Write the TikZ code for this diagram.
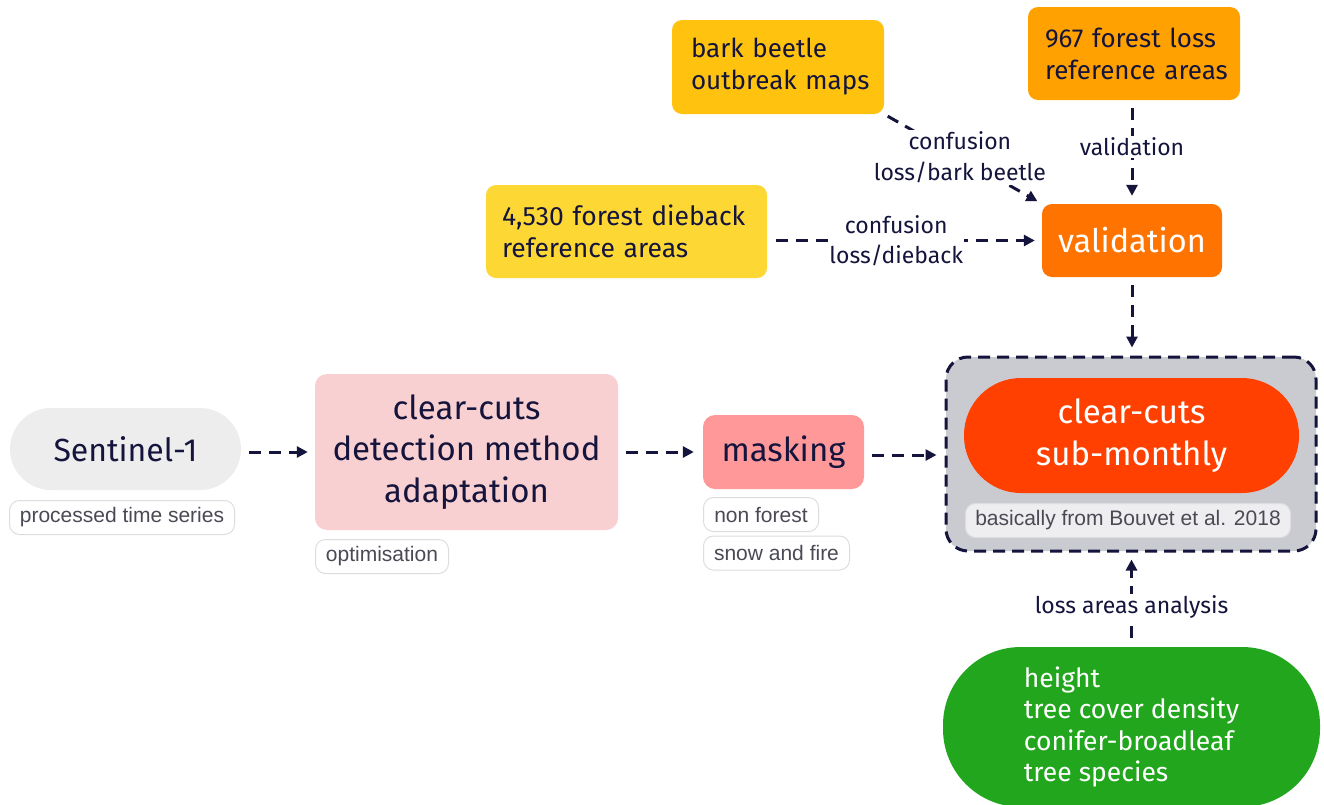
\documentclass[tikz,border=0pt]{standalone}
\usepackage{fontspec}
\setmainfont{Fira Sans}
\newfontfamily\tagfont{Liberation Sans}
\usetikzlibrary{arrows.meta}
\definecolor{navy}{HTML}{14143C}
\definecolor{tagtext}{HTML}{4A4A55}
\definecolor{tagline}{HTML}{DDDDE0}
\definecolor{senfill}{HTML}{EDEDED}
\definecolor{pinkfill}{HTML}{F9D0D1}
\definecolor{maskfill}{HTML}{FF9999}
\definecolor{contfill}{HTML}{C9CBD1}
\definecolor{subfill}{HTML}{FF4000}
\definecolor{bouvfill}{HTML}{EEEEF0}
\definecolor{valfill}{HTML}{FF7400}
\definecolor{lossfill}{HTML}{FFA100}
\definecolor{barkfill}{HTML}{FFC30F}
\definecolor{diefill}{HTML}{FDD835}
\definecolor{greenfill}{HTML}{22A61E}
\tikzset{
  box/.style={inner sep=0pt, text=navy, align=center},
  lbox/.style={inner ysep=0pt, text=navy, align=left},
  tagbox/.style={draw=tagline, line width=1pt, fill=white, rounded corners=10pt,
     inner sep=0pt, minimum height=34pt, text=tagtext, anchor=north west,
     font=\tagfont\fontsize{21}{24}\selectfont},
  arr/.style={draw=navy, line width=3pt, dash pattern=on 12pt off 8pt,
     -{Triangle[length=11pt,width=11pt]}},
  elabel/.style={fill=white, inner sep=2pt, text=navy, align=center,
     font=\fontsize{23}{30}\selectfont}
}
\begin{document}
\begin{tikzpicture}[x=1pt,y=-1pt]
\useasboundingbox[fill=white] (0,0) rectangle (1324,804);

% container
\node[draw=navy, line width=3pt, dash pattern=on 12pt off 7pt, fill=contfill,
  rounded corners=22pt, minimum width=370pt, minimum height=194pt, inner sep=0pt]
  (cont) at (1131,454) {};
\node[box, fill=subfill, text=white, rounded corners=57pt, minimum width=335pt,
  minimum height=115pt, font=\fontsize{33}{42}\selectfont] (sub) at (1131.5,435.5)
  {clear-cuts\\sub-monthly};
\node[tagbox, fill=bouvfill, minimum width=325pt] (bouv) at (965,503) {basically from Bouvet et al. 2018};

% left chain
\node[box, fill=senfill, rounded corners=41pt, minimum width=231pt, minimum height=82pt,
  font=\fontsize{32}{41}\selectfont] (sen) at (125.5,449) {Sentinel-1};
\node[tagbox, minimum width=225pt] (proc) at (9,500) {processed time series};

\node[box, fill=pinkfill, rounded corners=12pt, minimum width=303pt, minimum height=156pt,
  font=\fontsize{33}{41.5}\selectfont] (det) at (466.5,452) {clear-cuts\\detection method\\adaptation};
\node[tagbox, minimum width=133pt] (opt) at (315,539) {optimisation};

\node[box, fill=maskfill, rounded corners=12pt, minimum width=161pt, minimum height=74pt,
  font=\fontsize{33}{41}\selectfont] (mask) at (783.5,452) {masking};
\node[tagbox, minimum width=115pt] (nonf) at (703,497) {non forest};
\node[tagbox, minimum width=146pt] (snow) at (703,535.5) {snow and fire};

% top
\node[box, fill=valfill, text=white, rounded corners=10pt, minimum width=180pt, minimum height=73pt,
  font=\fontsize{32.5}{41}\selectfont] (val) at (1132,240.5) {validation};
\node[lbox, fill=lossfill, rounded corners=10pt, inner xsep=17pt, text width=178pt, minimum height=93pt,
  font=\fontsize{26}{32}\selectfont] (loss) at (1134,53.5) {\mbox{967 forest loss}\\\mbox{reference areas}};
\node[lbox, fill=barkfill, rounded corners=10pt, inner xsep=19pt, text width=174pt, minimum height=94pt,
  font=\fontsize{26}{32}\selectfont] (bark) at (778,67) {\mbox{bark beetle}\\\mbox{outbreak maps}};
\node[lbox, fill=diefill, rounded corners=10pt, inner xsep=16pt, text width=249pt, minimum height=93pt,
  font=\fontsize{26.5}{32}\selectfont] (die) at (626.5,231.5) {\mbox{4,530 forest dieback}\\\mbox{reference areas}};

% bottom
\node[box, fill=greenfill, text=white, rounded corners=78pt, minimum width=377pt, minimum height=160pt,
  align=left, font=\fontsize{26.5}{31.3}\selectfont] (green) at (1131.5,727)
  {height\\tree cover density\\conifer-broadleaf\\tree species};

% connectors
\draw[arr, shorten <=8pt, shorten >=7pt] (sen.east |- det.west) -- (det.west);
\draw[arr, shorten <=8pt, shorten >=9pt] (det.east) -- (mask.west);
\draw[arr, shorten <=8pt, shorten >=8pt] (mask.east) ++(0,3) coordinate (m1) (m1) -- (cont.west |- m1);
\draw[arr, shorten <=8pt, shorten >=8pt] (val.south) -- (val.south |- cont.north);
\draw[arr, shorten <=8pt, shorten >=8pt] (loss.south -| val.north) -- (val.north)
  node[elabel, pos=0.45] {validation};
\draw[arr, shorten <=4pt, shorten >=5pt] (bark.south east) -- (val.north west)
  node[elabel, pos=0.48, font=\fontsize{23}{31}\selectfont] {confusion\\loss/bark beetle};
\draw[arr, shorten <=9pt, shorten >=7pt] (die.east |- val.west) -- (val.west)
  node[elabel, pos=0.47, font=\fontsize{23}{30}\selectfont, inner sep=1pt] {confusion\\loss/dieback};
\draw[arr, shorten <=9pt, shorten >=7pt] (green.north) -- (green.north |- cont.south)
  node[elabel, pos=0.42] {loss areas analysis};
\end{tikzpicture}
\end{document}
